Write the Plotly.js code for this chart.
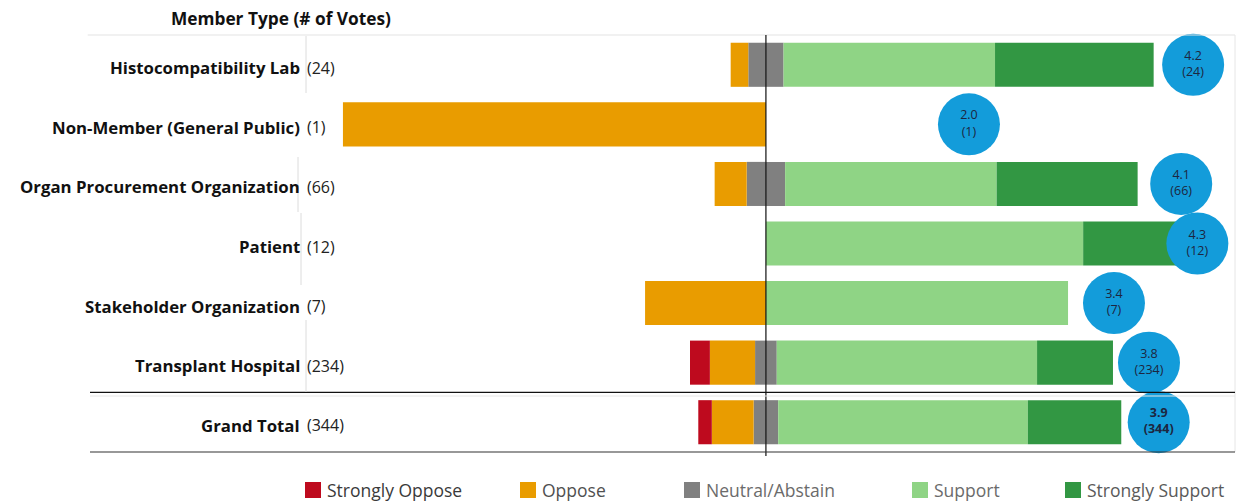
<!DOCTYPE html>
<html>
<head>
<meta charset="utf-8">
<script src="https://cdn.plot.ly/plotly-3.0.1.min.js"></script>
<style>html,body{margin:0;padding:0;background:#fff;}#chart{width:1237px;height:502px;}</style>
</head>
<body>
<div id="chart"></div>
<script>
// ---- data (vote counts per member type) ----
const categories = ['Histocompatibility Lab','Non-Member (General Public)','Organ Procurement Organization','Patient','Stakeholder Organization','Transplant Hospital','Grand Total'];
const totalVotes = [24, 1, 66, 12, 7, 234, 344];
const stronglyOppose = [0, 0, 0, 0, 0, 11, 11];
const oppose = [1, 1, 5, 0, 2, 25, 34];
const neutral = [2, 0, 6, 0, 0, 12, 20];
const support = [12, 0, 33, 9, 5, 144, 203];
const stronglySupport = [9, 0, 22, 3, 0, 42, 76];
const meanLabels = ['4.2', '2.0', '4.1', '4.3', '3.4', '3.8', '3.9'];
const legendNames = ['Strongly Oppose', 'Oppose', 'Neutral/Abstain', 'Support', 'Strongly Support'];

// ---- derived ----
const pct = arr => arr.map((v, i) => v / totalVotes[i] * 100);
const pSO = pct(stronglyOppose), pO = pct(oppose), pN = pct(neutral), pS = pct(support), pSS = pct(stronglySupport);
const meanScore = categories.map((c, i) =>
  (stronglyOppose[i]*1 + oppose[i]*2 + neutral[i]*3 + support[i]*4 + stronglySupport[i]*5) / totalVotes[i]);

const colors = {so:'#be0a1e', o:'#e99c00', n:'#808080', s:'#8fd485', ss:'#329743', bubble:'#139cda'};
const legendColors = [colors.so, colors.o, colors.n, colors.s, colors.ss];
const W = 0.74;
const neg = a => a.map(v => -v);

const common = {type:'bar', orientation:'h', y:categories, width:W, hoverinfo:'skip', showlegend:false};
const traces = [
  Object.assign({}, common, {name:'Neutral/Abstain', x:neg(pN.map(v=>v/2)), marker:{color:colors.n, line:{width:0}}}),
  Object.assign({}, common, {name:'Neutral/Abstain', x:pN.map(v=>v/2), marker:{color:colors.n, line:{width:0}}}),
  Object.assign({}, common, {name:'Oppose', x:neg(pO), marker:{color:colors.o, line:{width:0}}}),
  Object.assign({}, common, {name:'Strongly Oppose', x:neg(pSO), marker:{color:colors.so, line:{width:0}}}),
  Object.assign({}, common, {name:'Support', x:pS, marker:{color:colors.s, line:{width:0}}}),
  Object.assign({}, common, {name:'Strongly Support', x:pSS, marker:{color:colors.ss, line:{width:0}}}),
  {type:'scatter', mode:'markers+text', xaxis:'x2', y:categories, x:meanScore, showlegend:false, hoverinfo:'skip',
   cliponaxis:false,
   marker:{size:62, color:colors.bubble, line:{width:0}},
   text:meanLabels.map((m,i)=> i===categories.length-1 ? '<b>'+m+'<br>('+totalVotes[i]+')</b>' : m+'<br>('+totalVotes[i]+')'),
   textposition:'middle center',
   textfont:{family:'Open Sans, sans-serif', size:12.5, color:'#1d2640'}}
];

// axis ranges: zero line at px 766, 423 px per 100%
const xL = -159.8, xR = 110.9;
const perUnit = 24; // % width per mean-score unit for bubble axis

const L = 90, R = 2, T = 35, B = 50;
const plotW = 1237 - L - R, plotH = 502 - T - B;
const px = p => (p - L) / plotW;
const py = p => (502 - B - p) / plotH;

const annotations = [];
const shapes = [];
annotations.push({xref:'paper', yref:'paper', x:px(393), y:py(18), xanchor:'right', yanchor:'middle',
  text:'<b>Member Type (# of Votes)</b>', showarrow:false, font:{family:'Open Sans, sans-serif', size:17.3, color:'#111'}});
categories.forEach((c, i) => {
  annotations.push({xref:'paper', yref:'y', x:px(302), y:c, xanchor:'right', yanchor:'middle', yshift:-3,
    text:'<b>'+c+'</b>', showarrow:false, font:{family:'Open Sans, sans-serif', size:16.8, color:'#111'}});
  annotations.push({xref:'paper', yref:'y', x:px(305), y:c, xanchor:'left', yanchor:'middle', yshift:-3,
    text:'('+totalVotes[i]+')', showarrow:false, font:{family:'Open Sans, sans-serif', size:16, color:'#222'}});
});

// custom legend (squares + labels) along the bottom
const legSquareX = [305, 520, 684, 912, 1065];
const legTextColors = ['#3a3a3a', '#505050', '#6b6b6b', '#6b6b6b', '#5a5a5a'];
legendNames.forEach((n, i) => {
  const x0 = legSquareX[i];
  shapes.push({type:'rect', xref:'paper', yref:'paper', x0:px(x0), x1:px(x0+16), y0:py(498), y1:py(482),
    fillcolor:legendColors[i], line:{width:0}});
  annotations.push({xref:'paper', yref:'paper', x:px(x0+20), y:py(490), xanchor:'left', yanchor:'middle',
    text:n, showarrow:false, font:{family:'Open Sans, sans-serif', size:17.5, color:legTextColors[i]}});
});

shapes.push(
  {type:'line', xref:'paper', yref:'paper', x0:-0.002, x1:1, y0:1, y1:1, line:{color:'#e3e3e3', width:1}},
  {type:'line', xref:'paper', yref:'paper', x0:1, x1:1, y0:0, y1:1, line:{color:'#e6e6e6', width:1}},
  {type:'line', xref:'x', yref:'paper', x0:0, x1:0, y0:py(456), y1:1, line:{color:'#111', width:1.2}},
  {type:'line', xref:'paper', yref:'y', x0:0, x1:1, y0:5.5, y1:5.5, line:{color:'#111', width:1.2}},
  {type:'line', xref:'paper', yref:'y', x0:0, x1:1, y0:5.56, y1:5.56, line:{color:'#e6e6e6', width:1}},
  {type:'line', xref:'paper', yref:'paper', x0:0, x1:1, y0:0, y1:0, line:{color:'#333', width:1.2}},
  {type:'line', xref:'paper', yref:'paper', x0:px(306), x1:px(306), y0:py(36), y1:py(93), line:{color:'#dcdcdc', width:1}},
  {type:'line', xref:'paper', yref:'paper', x0:px(298), x1:px(298), y0:py(157), y1:py(212), line:{color:'#dcdcdc', width:1}},
  {type:'line', xref:'paper', yref:'paper', x0:px(301), x1:px(301), y0:py(213), y1:py(285), line:{color:'#dcdcdc', width:1}},
  {type:'line', xref:'paper', yref:'paper', x0:px(306), x1:px(306), y0:py(320), y1:py(392), line:{color:'#dcdcdc', width:1}}
);

const layout = {
  width:1237, height:502,
  margin:{l:L, r:R, t:T, b:B, autoexpand:false},
  paper_bgcolor:'#fff', plot_bgcolor:'#fff',
  barmode:'relative',
  font:{family:'Open Sans, sans-serif', size:14, color:'#222'},
  xaxis:{range:[xL, xR], showgrid:false, zeroline:false, showticklabels:false, ticks:'', showline:false, fixedrange:true},
  xaxis2:{overlaying:'x', range:[xL/perUnit, xR/perUnit], showgrid:false, zeroline:false, showticklabels:false, ticks:'', showline:false, side:'top'},
  yaxis:{type:'category', categoryorder:'array', categoryarray:categories, range:[6.5, -0.5],
         showgrid:false, zeroline:false, showticklabels:false, ticks:'', showline:false, fixedrange:true},
  showlegend:false,
  annotations:annotations,
  shapes:shapes
};

Plotly.newPlot('chart', traces, layout, {displayModeBar:false, staticPlot:true});
</script>
</body>
</html>
